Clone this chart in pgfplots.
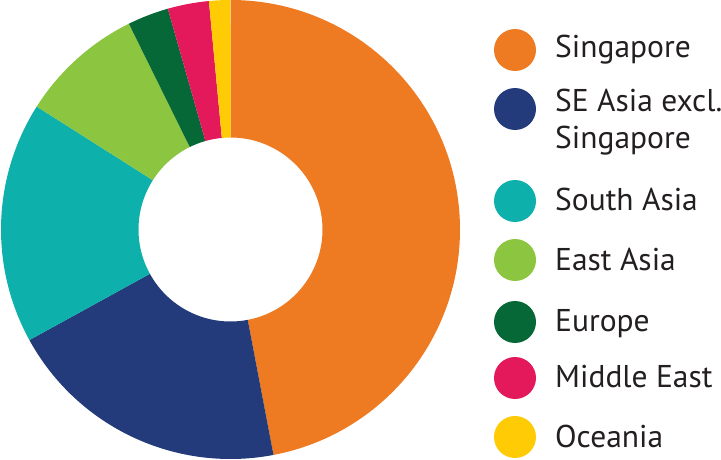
\documentclass[border=0pt]{standalone}
\usepackage{pgfplots}
\usepackage{pgfplotstable}
\pgfplotsset{compat=1.18}
\usepackage{fontspec}
\setmainfont{PT Sans}
\definecolor{c0}{HTML}{EE7A22}
\definecolor{c1}{HTML}{233B7A}
\definecolor{c2}{HTML}{0DB0AA}
\definecolor{c3}{HTML}{8CC540}
\definecolor{c4}{HTML}{066837}
\definecolor{c5}{HTML}{E4195B}
\definecolor{c6}{HTML}{FFCB05}
\definecolor{txt}{HTML}{231F20}
\pgfplotstableread{
name value
Singapore 47.0
SEAsia 20.0
SouthAsia 17.0
EastAsia 8.7
Europe 2.9
MiddleEast 2.9
Oceania 1.5
}\data
\begin{document}
\begin{tikzpicture}
\begin{axis}[x=1pt,y=1pt,xmin=0,xmax=721,ymin=0,ymax=459,hide axis,clip=false]
\coordinate (ll) at (axis cs:0,0);
\coordinate (ur) at (axis cs:721,459);
\def\cx{230.5}\def\cy{229.5}\def\ro{229.5}\def\ri{92}
\gdef\cum{0}
\pgfplotsforeachungrouped \i in {0,...,6}{%
  \pgfplotstablegetelem{\i}{value}\of\data
  \pgfmathsetmacro{\a}{90-\cum*3.6}%
  \pgfmathsetmacro{\newcum}{\cum+\pgfplotsretval}%
  \pgfmathsetmacro{\b}{90-\newcum*3.6}%
  \xdef\cum{\newcum}%
  \edef\tmp{\noexpand\fill[c\i] (axis cs:{\cx+\ro*cos(\a)},{\cy+\ro*sin(\a)}) arc[start angle=\a, end angle=\b, radius=\ro pt] -- (axis cs:{\cx+\ri*cos(\b)},{\cy+\ri*sin(\b)}) arc[start angle=\b, end angle=\a, radius=\ri pt] -- cycle;}%
  \tmp
}
% legend
\fill[c0] (axis cs:515,409) circle[radius=21];
\fill[c1] (axis cs:515,350) circle[radius=21];
\fill[c2] (axis cs:515,258) circle[radius=21];
\fill[c3] (axis cs:515,199) circle[radius=21];
\fill[c4] (axis cs:515,137) circle[radius=21];
\fill[c5] (axis cs:515,81) circle[radius=21];
\fill[c6] (axis cs:515,22) circle[radius=21];
\begin{scope}[every node/.style={anchor=base west,inner sep=0pt,text=txt,font=\fontsize{31.5}{36}\selectfont}]
\node at (axis cs:555,401) {Singapore};
\node at (axis cs:555,347) {SE Asia excl.};
\node at (axis cs:555,311) {Singapore};
\node at (axis cs:555,249) {South Asia};
\node at (axis cs:555,189) {East Asia};
\node at (axis cs:555,128) {Europe};
\node at (axis cs:555,72) {Middle East};
\node at (axis cs:555,12) {Oceania};
\end{scope}
\end{axis}
\pgfresetboundingbox
\path[use as bounding box] (ll) rectangle (ur);
\end{tikzpicture}
\end{document}
